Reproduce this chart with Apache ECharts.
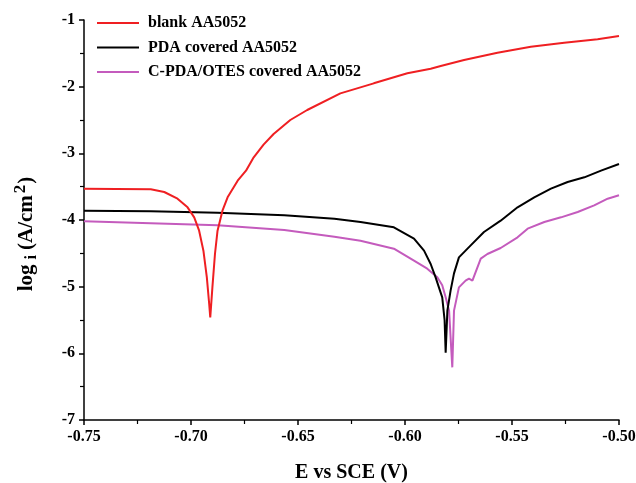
<!DOCTYPE html>
<html>
<head>
<meta charset="utf-8">
<script src="https://cdn.jsdelivr.net/npm/echarts@6/dist/echarts.min.js"></script>
<style>
  html, body { margin: 0; padding: 0; background: #fff; }
  #chart { width: 636px; height: 483px; }
</style>
</head>
<body>
<div id="chart"></div>
<script>
const seriesNames = ['blank AA5052', 'PDA covered AA5052', 'C-PDA/OTES covered AA5052']

// potential (V vs SCE) and log i for each curve
const blankE = [-0.75, -0.735, -0.7188, -0.7125, -0.7063, -0.7016, -0.6985, -0.6962, -0.6942, -0.6926, -0.6915, -0.691,
  -0.69, -0.6888, -0.6876, -0.6853, -0.6829, -0.6782, -0.6743, -0.6707, -0.6661, -0.6614, -0.6536, -0.6457,
  -0.6302, -0.6146, -0.5989, -0.588, -0.5833, -0.5724, -0.5568, -0.5412, -0.5256, -0.51, -0.50]
const blankLog = [-3.53, -3.535, -3.54, -3.58, -3.68, -3.81, -3.96, -4.16, -4.46, -4.86, -5.26, -5.46,
  -5.01, -4.51, -4.16, -3.86, -3.66, -3.41, -3.26, -3.06, -2.87, -2.71, -2.5, -2.35,
  -2.1, -1.95, -1.8, -1.73, -1.69, -1.6, -1.49, -1.4, -1.34, -1.29, -1.24]

const pdaE = [-0.75, -0.7188, -0.6876, -0.6564, -0.633, -0.6208, -0.6052, -0.5958, -0.5911, -0.588, -0.5857, -0.5826,
  -0.5815, -0.581, -0.5802, -0.5787, -0.5771, -0.5748, -0.5693, -0.5631, -0.5553, -0.5474, -0.5396, -0.5318,
  -0.524, -0.5162, -0.5084, -0.50]
const pdaLog = [-3.86, -3.87, -3.89, -3.93, -3.98, -4.03, -4.11, -4.28, -4.46, -4.66, -4.86, -5.16,
  -5.5, -5.99, -5.36, -5.06, -4.8, -4.56, -4.38, -4.18, -4.01, -3.81, -3.66, -3.53,
  -3.43, -3.36, -3.26, -3.16]

const otesE = [-0.75, -0.7188, -0.6876, -0.6564, -0.633, -0.6208, -0.6052, -0.5958, -0.5896, -0.5849, -0.5826, -0.581,
  -0.5794, -0.5779, -0.5771, -0.5748, -0.5717, -0.5701, -0.5685, -0.5646, -0.5615, -0.5553, -0.5474, -0.5427,
  -0.5349, -0.5271, -0.5193, -0.5116, -0.5053, -0.50]
const otesLog = [-4.02, -4.05, -4.08, -4.15, -4.25, -4.31, -4.43, -4.61, -4.73, -4.86, -4.98, -5.16,
  -5.36, -6.21, -5.36, -5.01, -4.91, -4.88, -4.91, -4.58, -4.51, -4.42, -4.26, -4.13,
  -4.03, -3.96, -3.88, -3.78, -3.68, -3.63]

const colors = ['#ef1f22', '#000000', '#c45bbd']

const pairs = (xs, ys) => xs.map((x, i) => [x, ys[i]])

const font = 'Liberation Serif'
const axisText = { color: '#000', fontFamily: font, fontWeight: 'bold', fontSize: 16 }

const chart = echarts.init(document.getElementById('chart'), null, { renderer: 'canvas' })

chart.setOption({
  animation: false,
  backgroundColor: '#fff',
  grid: { left: 84, right: 17, top: 20, bottom: 63, outerBoundsMode: 'none', containLabel: false },
  legend: {
    orient: 'vertical',
    left: 97,
    top: 15,
    padding: 0,
    icon: 'rect',
    itemWidth: 42,
    itemHeight: 2,
    itemGap: 8.5,
    textStyle: { color: '#000', fontFamily: font, fontWeight: 'bold', fontSize: 16, padding: [0, 0, 0, 4] },
    data: seriesNames
  },
  xAxis: {
    type: 'value',
    min: -0.75,
    max: -0.5,
    interval: 0.05,
    name: 'E vs SCE (V)',
    nameLocation: 'middle',
    nameGap: 43,
    nameTextStyle: { color: '#000', fontFamily: font, fontWeight: 'bold', fontSize: 20 },
    axisLine: { onZero: false, lineStyle: { color: '#000', width: 1.5 } },
    axisTick: { length: 5, lineStyle: { color: '#000', width: 1.5 } },
    minorTick: { show: true, splitNumber: 2, length: 4, lineStyle: { color: '#000', width: 1.2 } },
    splitLine: { show: false },
    axisLabel: { ...axisText, margin: 9, formatter: v => v.toFixed(2) }
  },
  yAxis: {
    type: 'value',
    min: -7,
    max: -1,
    interval: 1,
    name: '{a|log}{s|i}{a|(A/cm}{p|2}{a|)}',
    nameLocation: 'middle',
    nameRotate: 90,
    nameGap: 43,
    nameTextStyle: {
      color: '#000',
      fontFamily: font,
      fontWeight: 'bold',
      padding: [0, 28, 0, 0],
      rich: {
        a: { fontFamily: font, fontWeight: 'bold', fontSize: 21, color: '#000', lineHeight: 26 },
        s: { fontFamily: font, fontWeight: 'bold', fontSize: 16, color: '#000', padding: [11, 5, 0, 5] },
        p: { fontFamily: font, fontWeight: 'bold', fontSize: 17, color: '#000', padding: [0, 1, 12, 2] }
      }
    },
    axisLine: { show: true, lineStyle: { color: '#000', width: 1.5 } },
    axisTick: { length: 5, lineStyle: { color: '#000', width: 1.5 } },
    minorTick: { show: true, splitNumber: 2, length: 4, lineStyle: { color: '#000', width: 1.2 } },
    splitLine: { show: false },
    axisLabel: { ...axisText, margin: 9 }
  },
  series: [
    { name: seriesNames[0], type: 'line', data: pairs(blankE, blankLog) },
    { name: seriesNames[1], type: 'line', data: pairs(pdaE, pdaLog) },
    { name: seriesNames[2], type: 'line', data: pairs(otesE, otesLog) }
  ].map((s, i) => ({
    ...s,
    showSymbol: false,
    symbol: 'none',
    color: colors[i],
    lineStyle: { color: colors[i], width: 2 },
    z: 3 - i
  }))
})
</script>
</body>
</html>
